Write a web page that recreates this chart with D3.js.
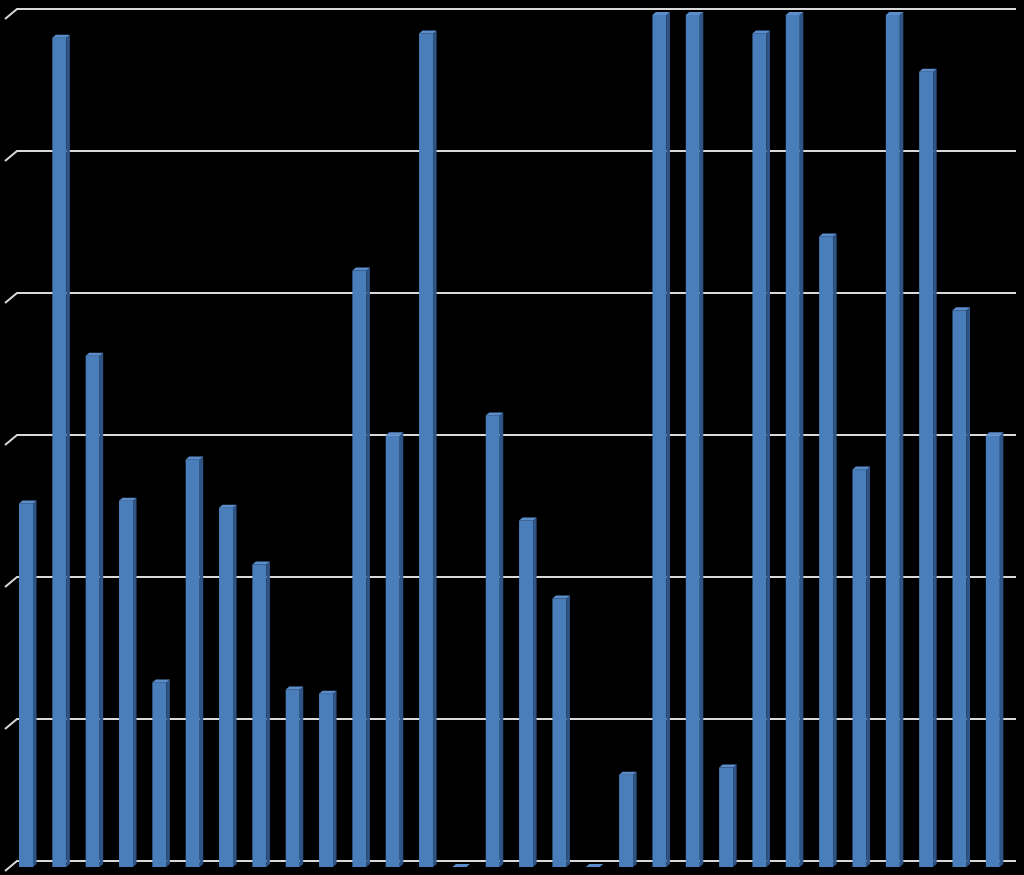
<!DOCTYPE html>
<html>
<head>
<meta charset="utf-8">
<script src="https://cdn.jsdelivr.net/npm/d3@7"></script>
<style>
html,body{margin:0;padding:0;background:#000;}
svg{display:block;}
</style>
</head>
<body>
<svg id="chart" width="1024" height="875"></svg>
<script>
const categories = d3.range(1, 31).map(String);
const values = [2.56, 5.84, 3.60, 2.58, 1.30, 2.87, 2.53, 2.13, 1.25, 1.22,
                4.20, 3.04, 5.87, 0, 3.18, 2.44, 1.89, 0, 0.65, 6.0,
                6.0, 0.70, 5.87, 6.0, 4.44, 2.80, 6.0, 5.60, 3.92, 3.04];
const tickValues = [0, 1, 2, 3, 4, 5, 6];

const svg = d3.select("#chart");
const W = 1024, H = 875;
svg.append("rect").attr("width", W).attr("height", H).attr("fill", "#000");

const baseY = 867;
const y = d3.scaleLinear().domain([0, 6]).range([baseY, 15]);
const x = d3.scaleBand().domain(categories).range([9.33, 1009.5])
  .paddingInner(0.58).paddingOuter(0.29);

const wallDy = 6; // back wall offset
const dx = 3.5, dy = 3;

// gridlines on back wall
const grid = svg.append("g");
tickValues.forEach(t => {
  const gy = y(t) - wallDy;
  grid.append("path")
    .attr("d", `M5,${gy + 10} L17,${gy} L1016,${gy}`)
    .attr("fill", "none")
    .attr("stroke", "#d9d9d9")
    .attr("stroke-width", 2);
});

const bw = x.bandwidth();
const bars = svg.append("g");
categories.forEach((c, i) => {
  const v = values[i];
  const x0 = x(c);
  const yt = y(v);
  const g = bars.append("g");
  if (v > 0) {
    g.append("rect").attr("x", x0).attr("y", yt).attr("width", bw).attr("height", baseY - yt)
      .attr("fill", "#4a7ebb");
    g.append("path")
      .attr("d", `M${x0 + bw},${yt} L${x0 + bw + dx},${yt - dy} L${x0 + bw + dx},${baseY - dy} L${x0 + bw},${baseY} Z`)
      .attr("fill", "#2f5586");
  }
  g.append("path")
    .attr("d", `M${x0},${yt} L${x0 + dx},${yt - dy} L${x0 + bw + dx},${yt - dy} L${x0 + bw},${yt} Z`)
    .attr("fill", "#5b8dcc");
});
</script>
</body>
</html>
